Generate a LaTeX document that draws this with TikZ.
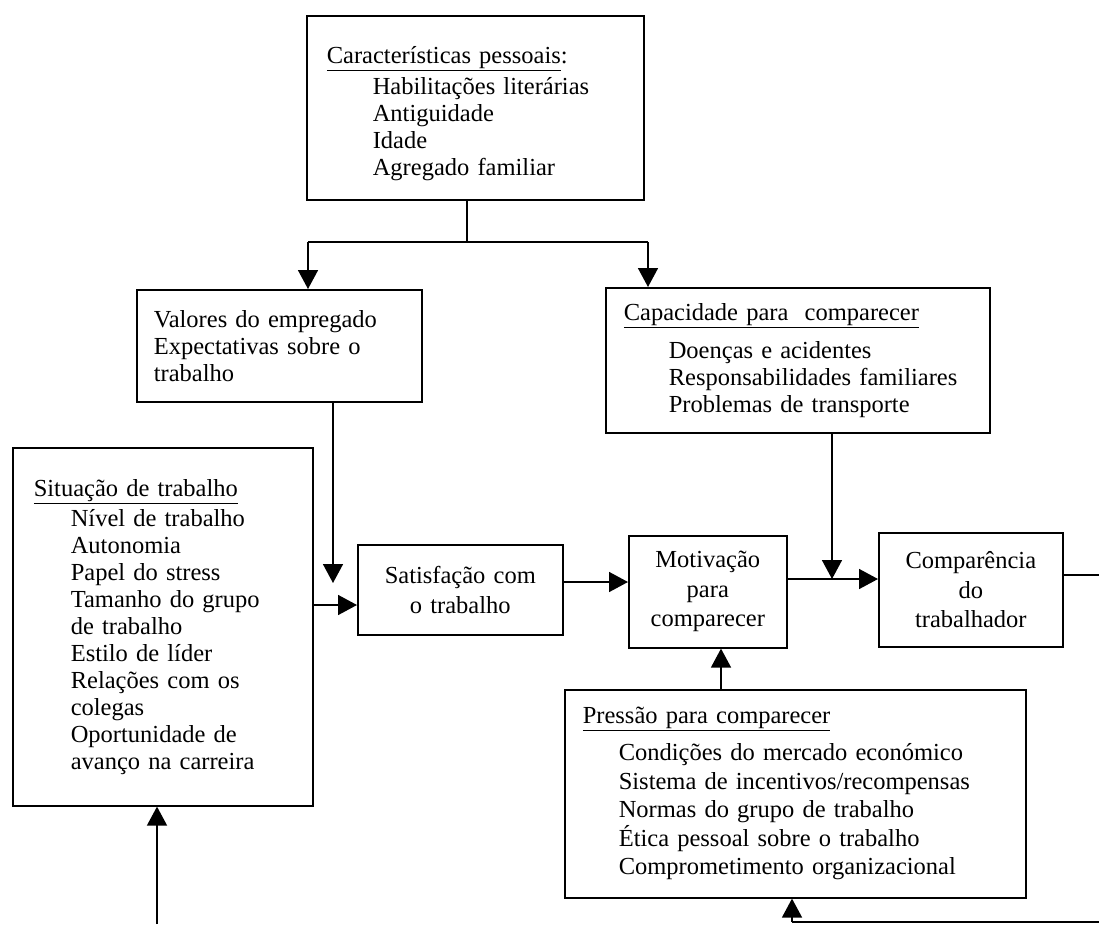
\documentclass[tikz,border=0pt]{standalone}
\usepackage{fontspec}
\setmainfont{Liberation Serif}
\usepackage{tikz}
\usetikzlibrary{arrows.meta}
\tikzset{
  caixa/.style={draw,rectangle,line width=1.6pt,anchor=north west,align=left,inner ysep=0pt},
  centro/.style={caixa,align=center,inner xsep=5pt,font=\fontsize{24.5}{29.5}\selectfont},
  linha/.style={line width=1.6pt},
  seta/.style={line width=1.6pt,-{Triangle[length=19pt,width=20pt]}}
}
\newcommand{\liga}[2]{\draw[seta] (#1) -- (#2);}

\begin{document}
\begin{tikzpicture}[x=1pt,y=-1pt,font=\fontsize{24.5}{27}\selectfont]
	\useasboundingbox (0,0) rectangle (1099,924);
	\node[caixa,text width=297pt,inner xsep=20pt,minimum height=184pt](carac) at (306,15) {\rule{0pt}{28pt}\underline{Características pessoais}:\\[4pt]
		\hspace*{46pt}Habilitações literárias\\
		\hspace*{46pt}Antiguidade\\
		\hspace*{46pt}Idade\\
		\hspace*{46pt}Agregado familiar};
	\node[caixa,text width=251pt,inner xsep=17pt,minimum height=112pt](valores) at (136,289) {Valores do empregado\\
		Expectativas sobre o\\
		trabalho};
	\node[caixa,text width=348pt,inner xsep=18pt,minimum height=145pt](capac) at (605,287) {\underline{Capacidade para~~comparecer}\\[11pt]
		\hspace*{45pt}Doenças e acidentes\\
		\hspace*{45pt}Responsabilidades familiares\\
		\hspace*{45pt}Problemas de transporte};
	\node[caixa,text width=258pt,inner xsep=21pt,minimum height=358pt](situ) at (12,447) {\underline{Situação de trabalho}\\[3pt]
		\hspace*{37pt}Nível de trabalho\\
		\hspace*{37pt}Autonomia\\
		\hspace*{37pt}Papel do stress\\
		\hspace*{37pt}Tamanho do grupo\\
		\hspace*{37pt}de trabalho\\
		\hspace*{37pt}Estilo de líder\\
		\hspace*{37pt}Relações com os\\
		\hspace*{37pt}colegas\\
		\hspace*{37pt}Oportunidade de\\
		\hspace*{37pt}avanço na carreira};
	\node[centro,text width=195pt,minimum height=90pt](satis) at (357,544) {Satisfação com\\o trabalho};
	\node[centro,text width=148pt,minimum height=112pt](motiv) at (628,535) {Motivação\\para\\comparecer};
	\node[centro,text width=174pt,minimum height=114pt](compar) at (878,532) {Comparência\\do\\trabalhador};
	\node[caixa,text width=425pt,inner xsep=18pt,minimum height=208pt,font=\fontsize{24.5}{28.5}\selectfont](press) at (564,689) {\underline{Pressão para comparecer}\\[8.5pt]
		\hspace*{36pt}Condições do mercado económico\\
		\hspace*{36pt}Sistema de incentivos/recompensas\\
		\hspace*{36pt}Normas do grupo de trabalho\\
		\hspace*{36pt}Ética pessoal sobre o trabalho\\
		\hspace*{36pt}Comprometimento organizacional};

	% ramificacao a partir das caracteristicas
	\coordinate (ramo) at (467,242);
	\coordinate (ramoV) at (308,242);
	\coordinate (ramoC) at (648,242);
	\draw[linha] (carac.south -| ramo) -- (ramo);
	\draw[linha] (ramoV) -- (ramoC);
	\liga{ramoV}{ramoV |- valores.north}
	\liga{ramoC}{ramoC |- capac.north}

	\coordinate (pontaV) at (333,583);
	\coordinate (pontaC) at (832,579);
	\coordinate (nivelS) at (0,605);
	\coordinate (nivelM) at (0,582);
	\coordinate (nivelC) at (0,579);
	\coordinate (eixoP) at (721,0);
	\liga{valores.south -| pontaV}{pontaV}
	\liga{situ.east |- nivelS}{satis.west |- nivelS}
	\liga{satis.east |- nivelM}{motiv.west |- nivelM}
	\liga{motiv.east |- nivelC}{compar.west |- nivelC}
	\liga{capac.south -| pontaC}{pontaC}
	\liga{press.north -| eixoP}{motiv.south -| eixoP}

	% retorno
	\coordinate (saida) at (1099,575);
	\coordinate (retornoD) at (1099,922);
	\coordinate (retornoP) at (792,922);
	\coordinate (retornoE) at (157,924);
	\draw[linha] (compar.east |- saida) -- (saida);
	\draw[linha] (retornoD) -- (retornoP);
	\liga{retornoP}{press.south -| retornoP}
	\liga{retornoE}{situ.south -| retornoE}
\end{tikzpicture}
\end{document}
